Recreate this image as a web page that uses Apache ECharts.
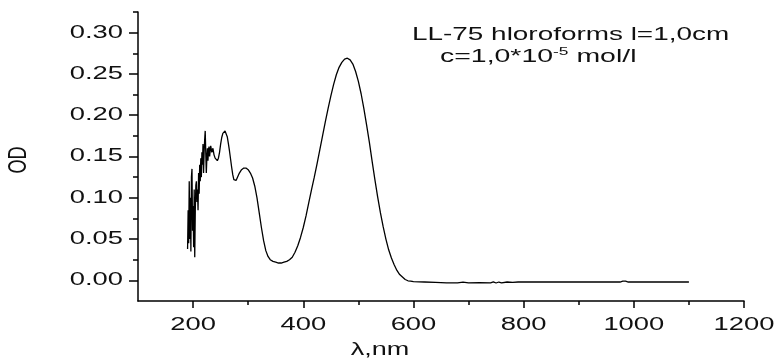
<!DOCTYPE html>
<html><head><meta charset="utf-8">
<script src="https://cdn.jsdelivr.net/npm/echarts@6/dist/echarts.min.js"></script>
<style>html,body{margin:0;padding:0;background:#fff}#c{width:778px;height:361px}</style>
</head><body><div id="c"></div>
<script>
// ---- data ----
const wavelength = [
  190,191,192,193,194,195,196,197,198,199,200,201,202,203,204,205,206,207,208,209,
  210,211,212,213,214,215,216,217,218,219,220,221,222,223,224,225,226,227,228,229,
  230,232,234,236,238,240,242,244,246,248,250,252,254,256,258,260,262,264,266,268,
  270,272,274,276,278,280,284,288,292,296,300,304,308,312,316,320,324,328,332,336,
  340,345,350,355,360,365,370,375,380,385,390,395,400,405,410,415,420,425,430,435,
  440,445,450,455,460,465,470,475,480,485,490,495,500,505,510,515,520,525,530,535,
  540,545,550,555,560,565,570,575,580,585,590,595,600,620,640,660,680,690,700,720,
  740,745,750,755,760,770,780,790,800,850,900,950,975,980,985,990,1050,1100
];
const od = [
  0.038,0.085,0.045,0.120,0.050,0.100,0.035,0.125,0.135,0.060,0.090,0.040,0.110,0.028,0.085,0.115,0.120,0.095,0.110,0.085,
  0.130,0.105,0.140,0.120,0.148,0.125,0.155,0.140,0.165,0.130,0.155,0.170,0.181,0.155,0.130,0.148,0.160,0.145,0.158,0.162,
  0.150,0.163,0.155,0.160,0.152,0.148,0.146,0.145,0.148,0.155,0.165,0.173,0.178,0.180,0.181,0.179,0.174,0.166,0.157,0.147,
  0.137,0.128,0.122,0.120,0.121,0.124,0.130,0.134,0.136,0.136,0.134,0.130,0.124,0.114,0.100,0.082,0.064,0.048,0.036,0.029,
  0.025,0.023,0.022,0.021,0.021,0.022,0.023,0.025,0.028,0.034,0.042,0.052,0.064,0.078,0.094,0.110,0.125,0.141,0.158,0.175,
  0.192,0.208,0.223,0.237,0.249,0.258,0.264,0.268,0.269,0.267,0.262,0.253,0.241,0.226,0.208,0.188,0.167,0.144,0.122,0.101,
  0.082,0.065,0.050,0.037,0.027,0.019,0.012,0.007,0.004,0.001,-0.0005,-0.001,-0.0015,-0.002,-0.0025,-0.003,-0.003,-0.0022,-0.003,-0.0028,
  -0.003,-0.0018,-0.0032,-0.002,-0.003,-0.002,-0.0025,-0.002,-0.002,-0.002,-0.002,-0.002,-0.002,-0.001,-0.001,-0.002,-0.002,-0.002
];
const xMajorTicks = [200, 400, 600, 800, 1000, 1200];
const xMinorTicks = [300, 500, 700, 900, 1100];
const xTickLabels = ['200', '400', '600', '800', '1000', '1200'];
const yMajorTicks = [0, 0.05, 0.10, 0.15, 0.20, 0.25, 0.30];
const yMinorTicks = [0.025, 0.075, 0.125, 0.175, 0.225, 0.275, 0.325];
const yTickLabels = ['0.00', '0.05', '0.10', '0.15', '0.20', '0.25', '0.30'];
const xTitle = 'λ,nm';
const yTitle = 'OD';
const noteLine1 = 'LL-75 hloroforms l=1,0cm';
const noteLine2a = 'c=1,0*10';
const noteLine2sup = '-5';
const noteLine2b = ' mol/l';

const X_MIN = 100, X_MAX = 1200, Y_MIN = -0.025, Y_MAX = 0.325;

const chart = echarts.init(document.getElementById('c'), null, {renderer: 'canvas'});
const axisLineStyle = {color: '#000', width: 1.5};
const baseX = {type: 'value', min: X_MIN, max: X_MAX, position: 'bottom', offset: 0,
  splitLine: {show: false}, axisLabel: {show: false}};
const baseY = {type: 'value', min: Y_MIN, max: Y_MAX, position: 'left', offset: 0,
  splitLine: {show: false}, axisLabel: {show: false}};
chart.setOption({
  animation: false,
  backgroundColor: '#fff',
  grid: {left: 138, right: 34, top: 12, bottom: 60, outerBoundsMode: 'none', containLabel: false},
  xAxis: [
    Object.assign({}, baseX, {axisLine: {show: true, onZero: false, lineStyle: axisLineStyle},
      axisTick: {show: true, inside: false, length: 7, customValues: xMajorTicks, lineStyle: {color: '#000', width: 1.5}}}),
    Object.assign({}, baseX, {axisLine: {show: false, onZero: false},
      axisTick: {show: true, inside: false, length: 4, customValues: xMinorTicks, lineStyle: {color: '#000', width: 1.5}}})
  ],
  yAxis: [
    Object.assign({}, baseY, {axisLine: {show: true, onZero: false, lineStyle: axisLineStyle},
      axisTick: {show: true, inside: false, length: 9, customValues: yMajorTicks, lineStyle: {color: '#000', width: 1.5}}}),
    Object.assign({}, baseY, {axisLine: {show: false, onZero: false},
      axisTick: {show: true, inside: false, length: 5, customValues: yMinorTicks, lineStyle: {color: '#000', width: 1.5}}})
  ],
  series: [{
    type: 'line', xAxisIndex: 0, yAxisIndex: 0, showSymbol: false, symbol: 'none',
    smooth: false, lineStyle: {color: '#000', width: 1.3},
    data: wavelength.map((w, i) => [w, od[i]])
  }]
});

const FONT = '"Liberation Sans", Arial, sans-serif';
const graphics = [];
xMajorTicks.forEach((v, i) => {
  const p = chart.convertToPixel({xAxisIndex: 0, yAxisIndex: 0}, [v, Y_MIN]);
  graphics.push({type: 'text', x: p[0], y: p[1] + 24, scaleX: 1.52, silent: true,
    style: {text: xTickLabels[i], fontFamily: FONT, fontSize: 18, fill: '#111', align: 'center', verticalAlign: 'middle'}});
});
yMajorTicks.forEach((v, i) => {
  const p = chart.convertToPixel({xAxisIndex: 0, yAxisIndex: 0}, [X_MIN, v]);
  graphics.push({type: 'text', x: p[0] - 15, y: p[1], scaleX: 1.52, silent: true,
    style: {text: yTickLabels[i], fontFamily: FONT, fontSize: 18, fill: '#111', align: 'right', verticalAlign: 'middle'}});
});
graphics.push({type: 'text', x: 380, y: 350, scaleX: 1.5, silent: true,
  style: {text: xTitle, fontFamily: FONT, fontSize: 18, fill: '#111', align: 'center', verticalAlign: 'middle'}});
graphics.push({type: 'text', x: 19, y: 160, rotation: Math.PI / 2, scaleY: 1.4, silent: true,
  style: {text: yTitle, fontFamily: FONT, fontSize: 18, fill: '#111', align: 'center', verticalAlign: 'middle'}});
graphics.push({type: 'text', x: 412, y: 35, scaleX: 1.55, silent: true,
  style: {text: noteLine1, fontFamily: FONT, fontSize: 18, fill: '#111', align: 'left', verticalAlign: 'middle'}});
graphics.push({type: 'text', x: 440, y: 57, scaleX: 1.58, silent: true,
  style: {text: '{a|' + noteLine2a + '}{s|' + noteLine2sup + '}{a|' + noteLine2b + '}',
    fontFamily: FONT, fontSize: 18, fill: '#111', align: 'left', verticalAlign: 'middle',
    rich: {a: {fontFamily: FONT, fontSize: 18, lineHeight: 22, fill: '#111'},
           s: {fontFamily: FONT, fontSize: 11, lineHeight: 22, verticalAlign: 'top', fill: '#111'}}}});
chart.setOption({graphic: graphics});
</script>
</body></html>
